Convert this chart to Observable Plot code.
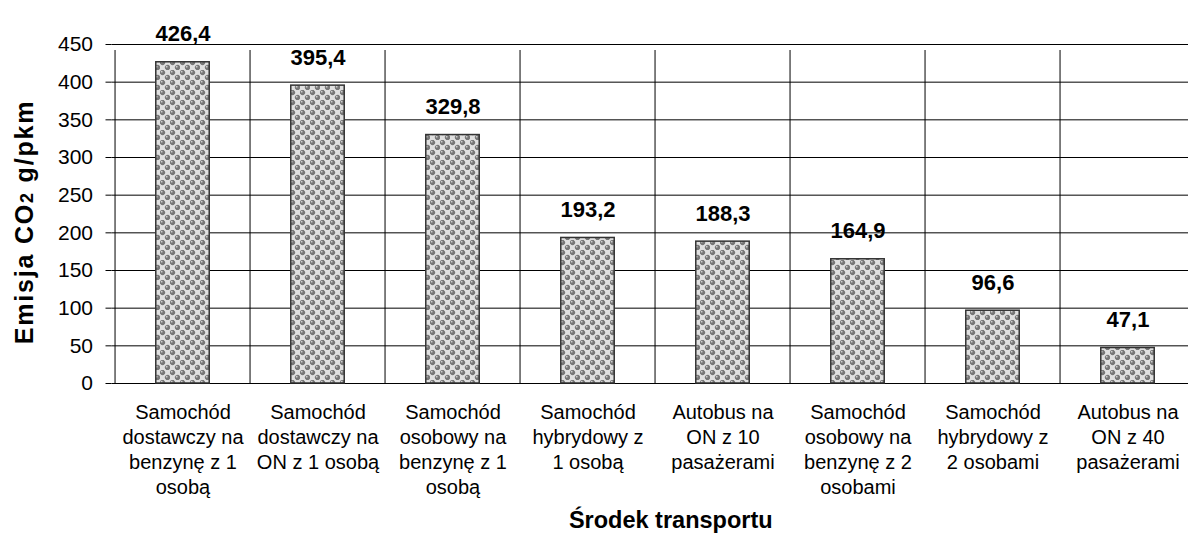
<!DOCTYPE html>
<html>
<head>
<meta charset="utf-8">
<script src="https://cdn.jsdelivr.net/npm/d3@7"></script>
<script src="https://cdn.jsdelivr.net/npm/@observablehq/plot@0.6"></script>
<style>
  html, body { margin: 0; padding: 0; background: #fff; overflow: hidden; }
  #chart { width: 1188px; height: 545px; overflow: hidden; }
</style>
</head>
<body>
<div id="chart"></div>
<script>
// ---- data ----
const categories = [
  "Samochód dostawczy na benzynę z 1 osobą",
  "Samochód dostawczy na ON z 1 osobą",
  "Samochód osobowy na benzynę z 1 osobą",
  "Samochód hybrydowy z 1 osobą",
  "Autobus na ON z 10 pasażerami",
  "Samochód osobowy na benzynę z 2 osobami",
  "Samochód hybrydowy z 2 osobami",
  "Autobus na ON z 40 pasażerami"
];
const tickLabels = [
  "Samochód\ndostawczy na\nbenzynę z 1\nosobą",
  "Samochód\ndostawczy na\nON z 1 osobą",
  "Samochód\nosobowy na\nbenzynę z 1\nosobą",
  "Samochód\nhybrydowy z\n1 osobą",
  "Autobus na\nON z 10\npasażerami",
  "Samochód\nosobowy na\nbenzynę z 2\nosobami",
  "Samochód\nhybrydowy z\n2 osobami",
  "Autobus na\nON z 40\npasażerami"
];
const values = [426.4, 395.4, 329.8, 193.2, 188.3, 164.9, 96.6, 47.1];
const yTicks = [0, 50, 100, 150, 200, 250, 300, 350, 400, 450];
const yTitleMain = "Emisja CO";
const yTitleSub = "2";
const yTitleRest = " g/pkm";
const xTitle = "Środek transportu";

const data = categories.map((c, i) => ({cat: c, value: values[i], label: tickLabels[i]}));

// ---- layout ----
const width = 1200, height = 545;
const marginLeft = 111.5, marginRight = 1, marginTop = 44, marginBottom = 162;
const step = (width - marginLeft - marginRight) / categories.length;
const font = "'Liberation Sans', Arial, sans-serif";

function defs() {
  const d = d3.create("svg:defs");
  const p = d.append("pattern").attr("id", "dots").attr("patternUnits", "userSpaceOnUse")
    .attr("width", 10).attr("height", 10);
  p.append("rect").attr("width", 10).attr("height", 10).attr("fill", "#ffffff");
  p.append("rect").attr("x", 5).attr("y", 0).attr("width", 5).attr("height", 5).attr("fill", "#e0e0e0");
  p.append("rect").attr("x", 0).attr("y", 5).attr("width", 5).attr("height", 5).attr("fill", "#e0e0e0");
  for (const [cx, cy] of [[2.5, 2.5], [7.5, 7.5]]) {
    p.append("circle").attr("cx", cx).attr("cy", cy).attr("r", 2.7).attr("fill", "#777");
    p.append("circle").attr("cx", cx - 0.8).attr("cy", cy - 0.8).attr("r", 0.9).attr("fill", "#cfcfcf");
  }
  return d.node();
}

function yTitle() {
  const t = d3.create("svg:text")
    .attr("transform", `translate(33,222) rotate(-90)`)
    .attr("text-anchor", "middle")
    .attr("font-family", font)
    .attr("font-weight", "bold")
    .attr("font-size", 25)
    .attr("letter-spacing", "1.8px")
    .attr("fill", "#000");
  t.append("tspan").text(yTitleMain);
  t.append("tspan").attr("font-size", 18).text(yTitleSub);
  t.append("tspan").text(yTitleRest);
  return t.node();
}

const chart = Plot.plot({
  width, height, marginLeft, marginRight, marginTop, marginBottom,
  style: {fontFamily: font, fontSize: "20px", color: "#000", background: "#fff", maxWidth: "none"},
  x: {type: "band", domain: categories, padding: 0, axis: null},
  y: {domain: [0, 450], axis: null},
  marks: [
    defs,
    Plot.ruleY(yTicks, {y: d => d, stroke: "#000", strokeWidth: 1}),
    Plot.ruleX(categories, {x: d => d, y1: 0, y2: 450, insetBottom: -6, dx: -step / 2, stroke: "#000", strokeWidth: 1}),
    Plot.barY(data, {x: "cat", y: "value", fill: "url(#dots)", stroke: "#333", strokeWidth: 1.5,
      insetLeft: step * 0.3, insetRight: step * 0.3}),
    Plot.text(data, {x: "cat", y: "value", text: d => d.value.toFixed(1).replace(".", ","),
      dy: -28, fontWeight: "bold", fontSize: 22, letterSpacing: "0.8px", fill: "#000"}),
    Plot.axisY({ticks: yTicks, tickSize: 6, tickPadding: 13, fontSize: 21, label: null, stroke: "#000"}),
    Plot.text(data, {x: "cat", y: () => 0, text: "label", lineAnchor: "top", dy: 18,
      lineHeight: 1.25, fontSize: 20, fill: "#000"}),
    yTitle,
    Plot.text([xTitle], {frameAnchor: "bottom", lineAnchor: "middle", text: d => d, dy: 137, dx: 15,
      fontWeight: "bold", fontSize: 23.5, fill: "#000"})
  ]
});
document.getElementById("chart").appendChild(chart);
</script>
</body>
</html>
